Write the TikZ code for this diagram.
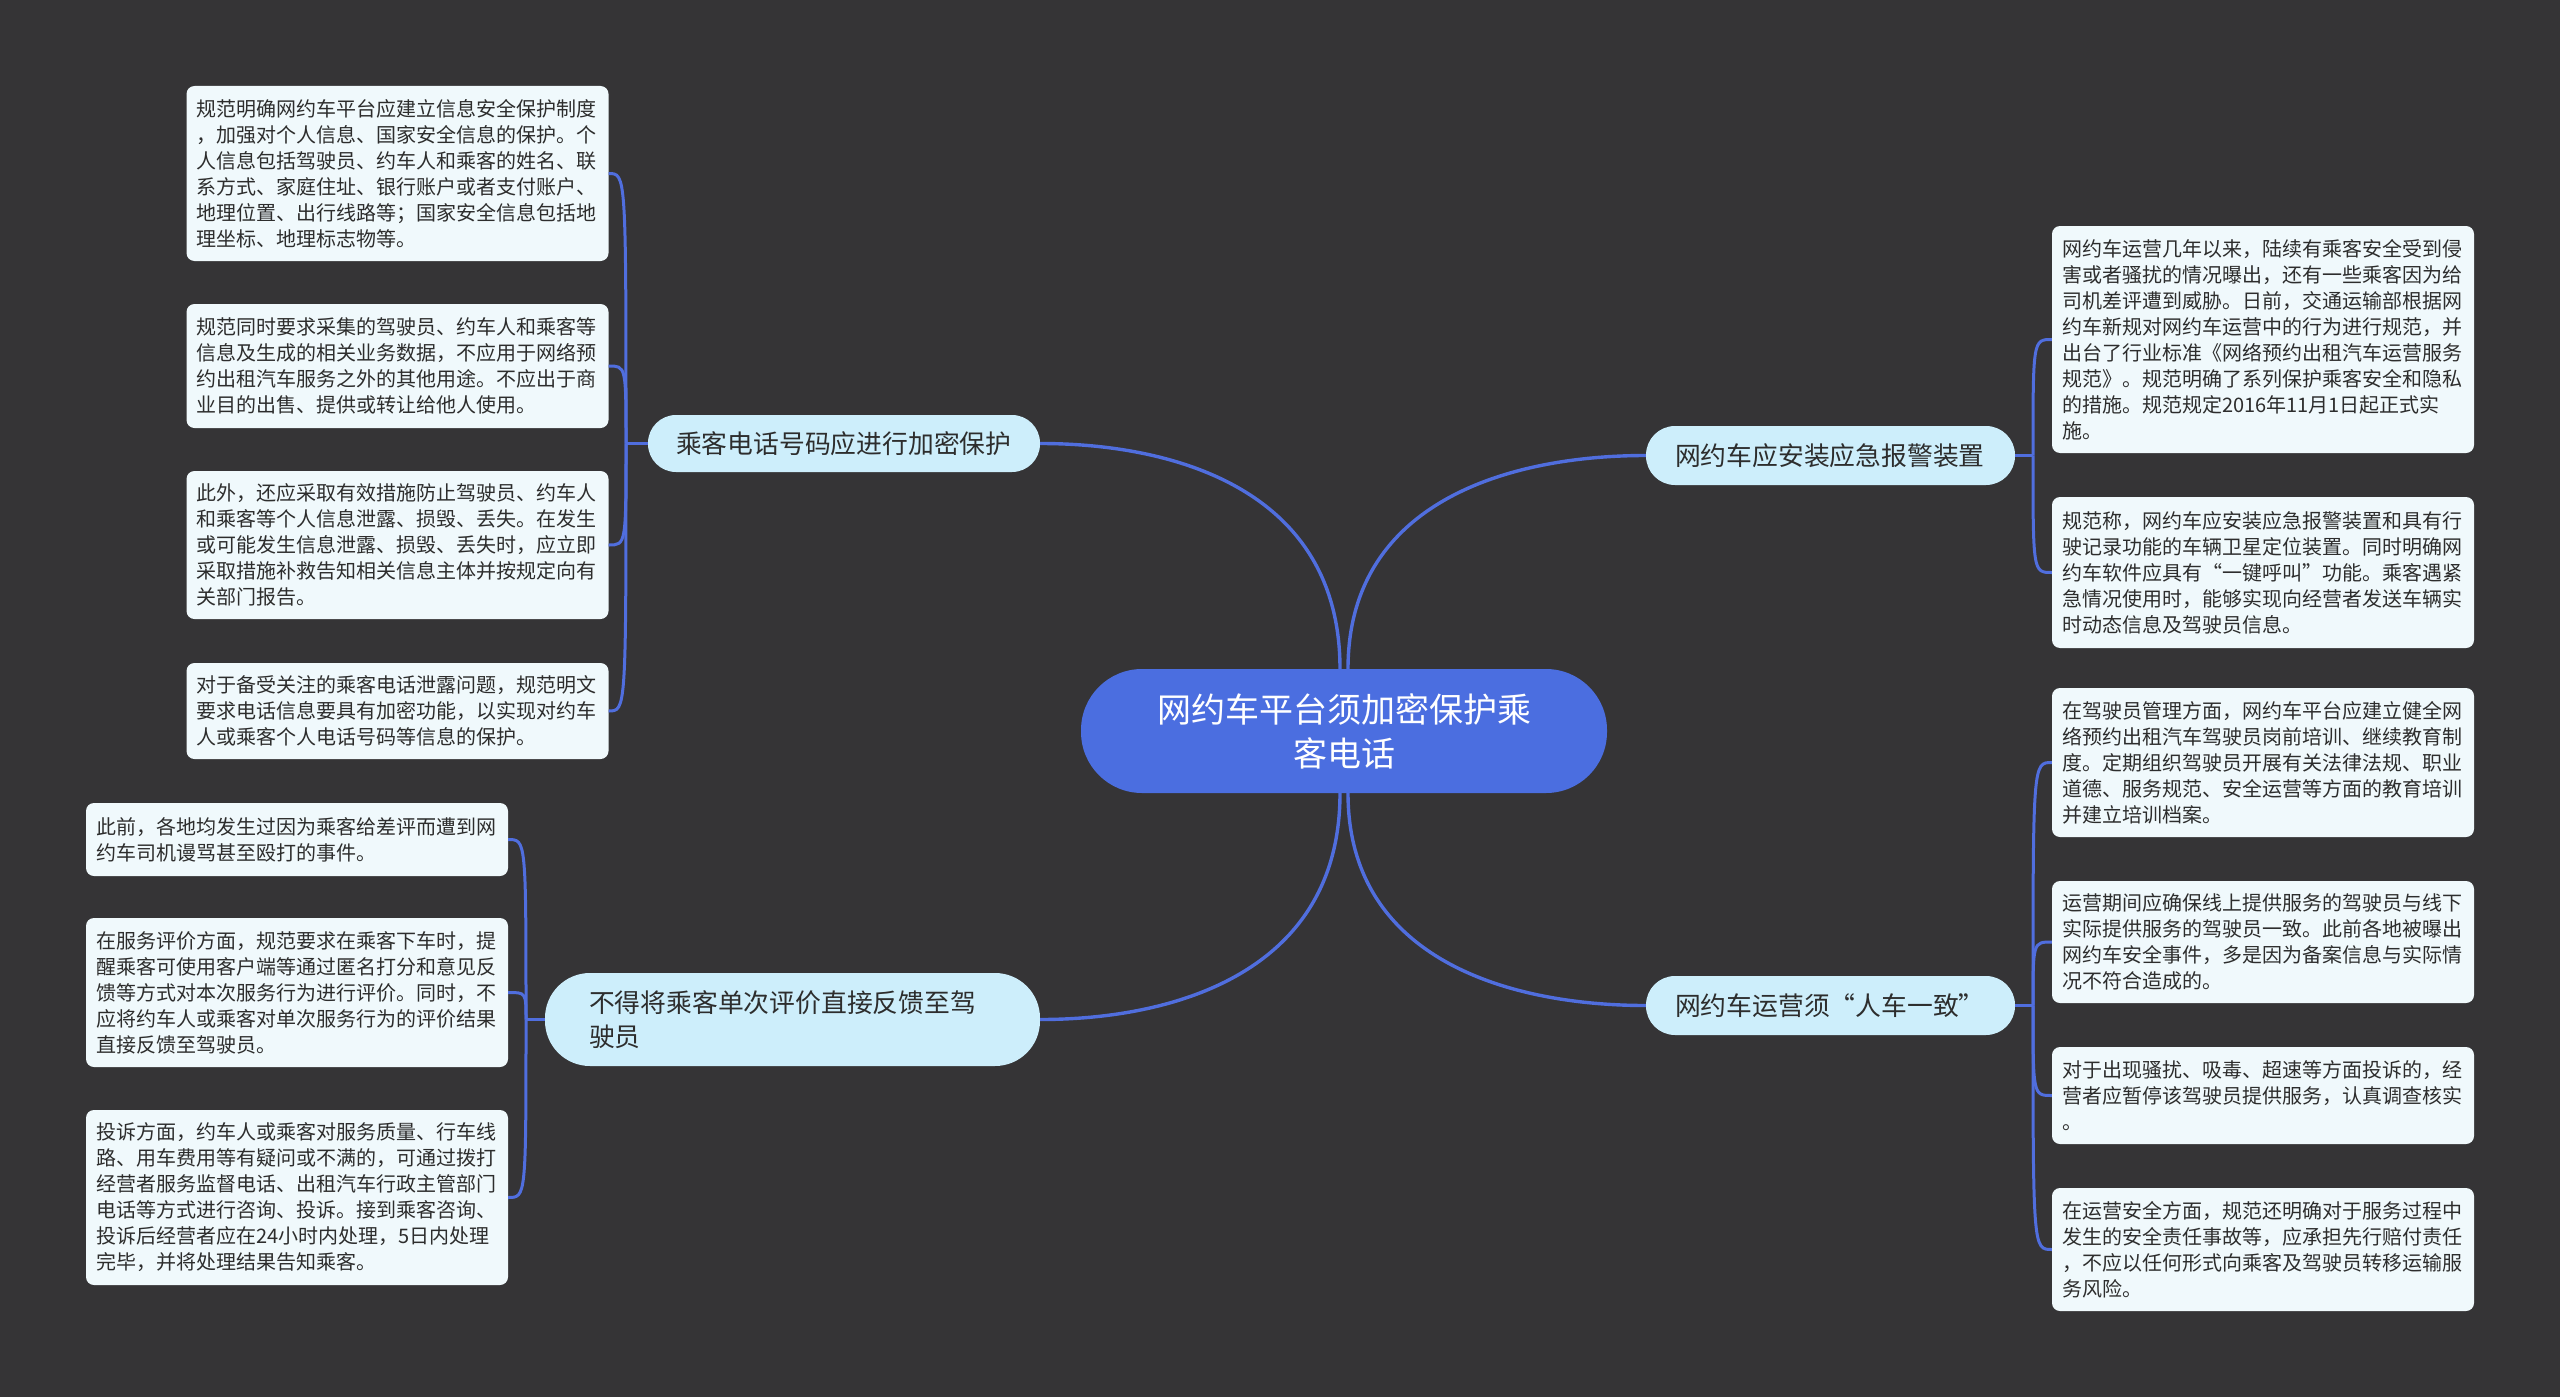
\documentclass[tikz,border=0pt]{standalone}
\usepackage{fontspec}
\setmainfont{Noto Sans CJK SC}
\definecolor{bgcol}{RGB}{53,52,54}
\definecolor{linecol}{RGB}{80,110,222}
\definecolor{rootcol}{RGB}{75,110,224}
\definecolor{branchcol}{RGB}{205,238,251}
\definecolor{leafcol}{RGB}{240,249,252}
\definecolor{txtcol}{RGB}{45,45,45}
\begin{document}
\begin{tikzpicture}[x=1pt,y=-1pt,
  rootnode/.style={rectangle, rounded corners=61pt, fill=rootcol, text=white,
    minimum width=526pt, minimum height=124pt, align=center,
    font={\fontsize{34}{44}\selectfont}},
  branchnode/.style={rectangle, fill=branchcol, text=txtcol, align=left,
    inner ysep=0pt, font={\fontsize{25.8}{34}\selectfont}},
  leafnode/.style={rectangle, rounded corners=8pt, fill=leafcol, text=txtcol,
    text width=402pt, inner xsep=10pt, inner ysep=0pt, align=left,
    font={\fontsize{20}{26}\selectfont}},
  conn/.style={draw=linecol, line width=3.4pt},
  thin conn/.style={draw=linecol, line width=3pt}]
\useasboundingbox (0,0) rectangle (2560,1397);
\fill[bgcol] (0,0) rectangle (2560,1397);

% root
\node[rootnode] (c) at (1344,731) {网约车平台须加密保护乘\\客电话};

% branches
\node[branchnode, rounded corners=28pt, text width=336pt, inner xsep=28pt, minimum height=57pt] (b1) at (844,443.5) {乘客电话号码应进行加密保护};
\node[branchnode, rounded corners=45pt, text width=407pt, inner xsep=44pt, minimum height=93pt] (b2) at (792.5,1019.5) {不得将乘客单次评价直接反馈至驾\\驶员};
\node[branchnode, rounded corners=29pt, text width=311pt, inner xsep=29pt, minimum height=59pt] (b3) at (1830.5,455.5) {网约车应安装应急报警装置};
\node[branchnode, rounded corners=29pt, text width=311pt, inner xsep=29pt, minimum height=59pt] (b4) at (1830.5,1005.5) {网约车运营须“人车一致”};

% leaves of b1
\node[leafnode, minimum height=175pt] (l1) at (397.5,173.5) {规范明确网约车平台应建立信息安全保护制度\\，加强对个人信息、国家安全信息的保护。个\\人信息包括驾驶员、约车人和乘客的姓名、联\\系方式、家庭住址、银行账户或者支付账户、\\地理位置、出行线路等；国家安全信息包括地\\理坐标、地理标志物等。};
\node[leafnode, minimum height=124pt] (l2) at (397.5,366) {规范同时要求采集的驾驶员、约车人和乘客等\\信息及生成的相关业务数据，不应用于网络预\\约出租汽车服务之外的其他用途。不应出于商\\业目的出售、提供或转让给他人使用。};
\node[leafnode, minimum height=148pt] (l3) at (397.5,545) {此外，还应采取有效措施防止驾驶员、约车人\\和乘客等个人信息泄露、损毁、丢失。在发生\\或可能发生信息泄露、损毁、丢失时，应立即\\采取措施补救告知相关信息主体并按规定向有\\关部门报告。};
\node[leafnode, minimum height=96pt] (l4) at (397.5,711) {对于备受关注的乘客电话泄露问题，规范明文\\要求电话信息要具有加密功能，以实现对约车\\人或乘客个人电话号码等信息的保护。};

% leaves of b2
\node[leafnode, minimum height=73pt] (l5) at (297,839.5) {此前，各地均发生过因为乘客给差评而遭到网\\约车司机谩骂甚至殴打的事件。};
\node[leafnode, minimum height=149pt] (l6) at (297,992.5) {在服务评价方面，规范要求在乘客下车时，提\\醒乘客可使用客户端等通过匿名打分和意见反\\馈等方式对本次服务行为进行评价。同时，不\\应将约车人或乘客对单次服务行为的评价结果\\直接反馈至驾驶员。};
\node[leafnode, minimum height=175pt] (l7) at (297,1197.5) {投诉方面，约车人或乘客对服务质量、行车线\\路、用车费用等有疑问或不满的，可通过拨打\\经营者服务监督电话、出租汽车行政主管部门\\电话等方式进行咨询、投诉。接到乘客咨询、\\投诉后经营者应在24小时内处理，5日内处理\\完毕，并将处理结果告知乘客。};

% leaves of b3
\node[leafnode, minimum height=227pt] (r1) at (2263,339.5) {网约车运营几年以来，陆续有乘客安全受到侵\\害或者骚扰的情况曝出，还有一些乘客因为给\\司机差评遭到威胁。日前，交通运输部根据网\\约车新规对网约车运营中的行为进行规范，并\\出台了行业标准《网络预约出租汽车运营服务\\规范》。规范明确了系列保护乘客安全和隐私\\的措施。规范规定2016年11月1日起正式实\\施。};
\node[leafnode, minimum height=151pt] (r2) at (2263,572.5) {规范称，网约车应安装应急报警装置和具有行\\驶记录功能的车辆卫星定位装置。同时明确网\\约车软件应具有“一键呼叫”功能。乘客遇紧\\急情况使用时，能够实现向经营者发送车辆实\\时动态信息及驾驶员信息。};

% leaves of b4
\node[leafnode, minimum height=149pt] (r3) at (2263,762.5) {在驾驶员管理方面，网约车平台应建立健全网\\络预约出租汽车驾驶员岗前培训、继续教育制\\度。定期组织驾驶员开展有关法律法规、职业\\道德、服务规范、安全运营等方面的教育培训\\并建立培训档案。};
\node[leafnode, minimum height=122pt] (r4) at (2263,942) {运营期间应确保线上提供服务的驾驶员与线下\\实际提供服务的驾驶员一致。此前各地被曝出\\网约车安全事件，多是因为备案信息与实际情\\况不符合造成的。};
\node[leafnode, minimum height=97pt] (r5) at (2263,1095.5) {对于出现骚扰、吸毒、超速等方面投诉的，经\\营者应暂停该驾驶员提供服务，认真调查核实\\。};
\node[leafnode, minimum height=123pt] (r6) at (2263,1249.5) {在运营安全方面，规范还明确对于服务过程中\\发生的安全责任事故等，应承担先行赔付责任\\，不应以任何形式向乘客及驾驶员转移运输服\\务风险。};

% root to branches
\draw[conn] ([xshift=-4pt]c.north) .. controls (1340,490) and (1175,443.5) .. (b1.east);
\draw[conn] ([xshift=4pt]c.north) .. controls (1348,500) and (1512,455.5) .. (b3.west);
\draw[conn] ([xshift=-4pt]c.south) .. controls (1340,972) and (1175,1019.5) .. (b2.east);
\draw[conn] ([xshift=4pt]c.south) .. controls (1348,961) and (1512,1005.5) .. (b4.west);

% junctions
\coordinate (j1) at (626,443.5);
\coordinate (j2) at (526,1019.5);
\coordinate (j3) at (2033,455.5);
\coordinate (j4) at (2033,1005.5);

\draw[thin conn] (b1.west) -- (j1);
\foreach \l in {l1,l2,l3,l4}
  \draw[thin conn] (j1) .. controls (j1 |- \l.east) and (j1 |- \l.east) .. (\l.east);
\draw[thin conn] (b2.west) -- (j2);
\foreach \l in {l5,l6,l7}
  \draw[thin conn] (j2) .. controls (j2 |- \l.east) and (j2 |- \l.east) .. (\l.east);
\draw[thin conn] (b3.east) -- (j3);
\foreach \l in {r1,r2}
  \draw[thin conn] (j3) .. controls (j3 |- \l.west) and (j3 |- \l.west) .. (\l.west);
\draw[thin conn] (b4.east) -- (j4);
\foreach \l in {r3,r4,r5,r6}
  \draw[thin conn] (j4) .. controls (j4 |- \l.west) and (j4 |- \l.west) .. (\l.west);
\end{tikzpicture}
\end{document}
